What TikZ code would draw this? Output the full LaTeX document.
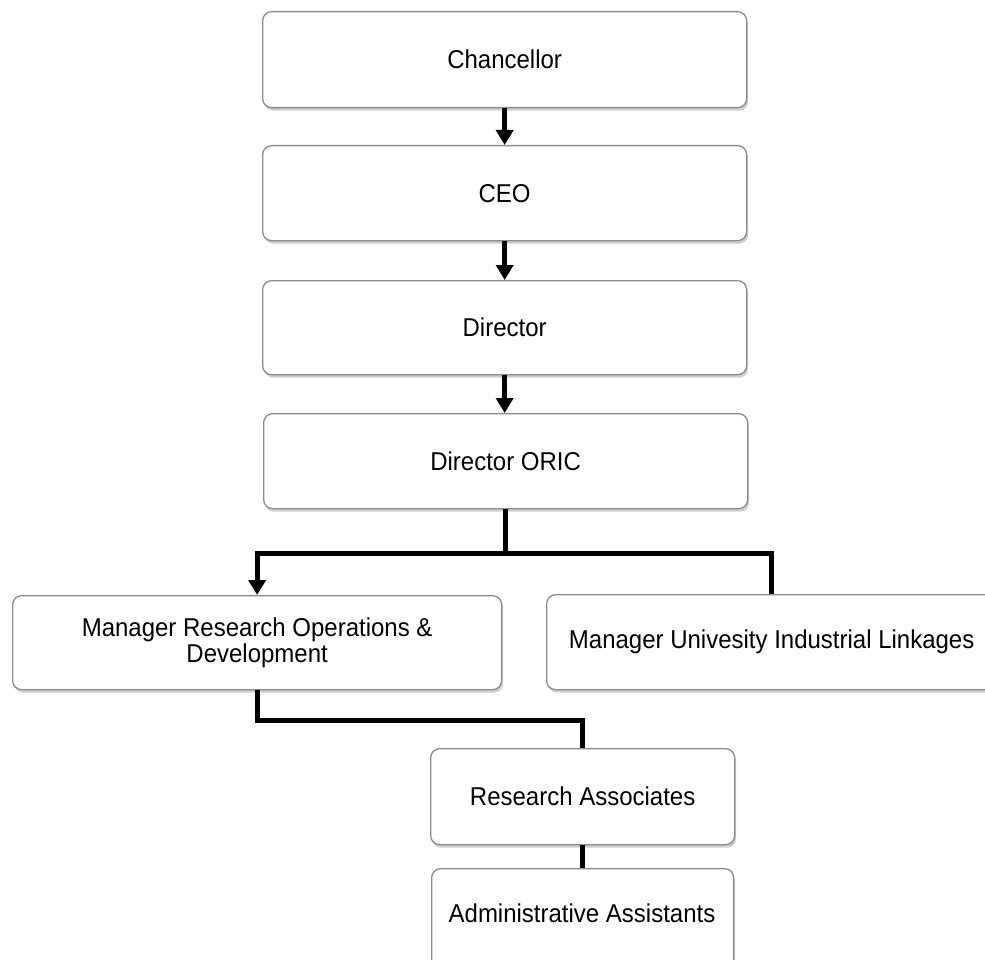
\documentclass[tikz,border=0pt]{standalone}
\usepackage{fontspec}
\setmainfont{Liberation Sans}
\newfontfamily\boxfont[FakeStretch=0.93]{Liberation Sans}
\usetikzlibrary{arrows.meta,shadows}
\begin{document}
\begin{tikzpicture}[x=1pt,y=-1pt,
  box/.style={draw=black!45, line width=1.3pt, rounded corners=9pt, fill=white,
    anchor=north west, inner sep=4pt, align=center,
    font=\boxfont\fontsize{25.8}{26}\selectfont,
    drop shadow={shadow xshift=1.5pt, shadow yshift=-3pt, fill=black!55, opacity=0.35}},
  conn/.style={line width=5pt, black},
  arr/.style={conn, -{Triangle[width=17pt,length=15pt]}}
]
\useasboundingbox (0,0) rectangle (985,960);
\node[box, minimum width=484pt, minimum height=96pt] (chan) at (262,11) {Chancellor};
\node[box, minimum width=484pt, minimum height=95pt] (ceo) at (262,145) {CEO};
\node[box, minimum width=484pt, minimum height=94pt] (dir) at (262,280) {Director};
\node[box, minimum width=484pt, minimum height=95pt] (oric) at (263,413) {Director ORIC};
\node[box, minimum width=489pt, minimum height=94pt] (manr) at (12,595) {Manager Research Operations \&\\Development};
\node[box, minimum width=450pt, minimum height=95pt] (uil) at (546,594) {Manager Univesity Industrial Linkages};
\node[box, minimum width=304pt, minimum height=96pt] (ra) at (430,748) {Research Associates};
\node[box, minimum width=302pt, minimum height=110pt] (aa) at (431,868) {};
\node[font=\boxfont\fontsize{25.8}{26}\selectfont, anchor=center] (aat) at (582,913) {Administrative Assistants};

\draw[arr] (chan.south) -- (chan.south |- ceo.north);
\draw[arr] (ceo.south) -- (ceo.south |- dir.north);
\draw[arr] (dir.south) -- (dir.south |- oric.north);
\draw[arr] (oric.south) -- ++(0,44) -| (manr.north);
\draw[conn] (oric.south) -- ++(0,44) -| (uil.north);
\draw[conn] (manr.south) -- ++(0,30) -| (ra.north);
\draw[conn] (ra.south) -- (ra.south |- aa.north);
\end{tikzpicture}
\end{document}
